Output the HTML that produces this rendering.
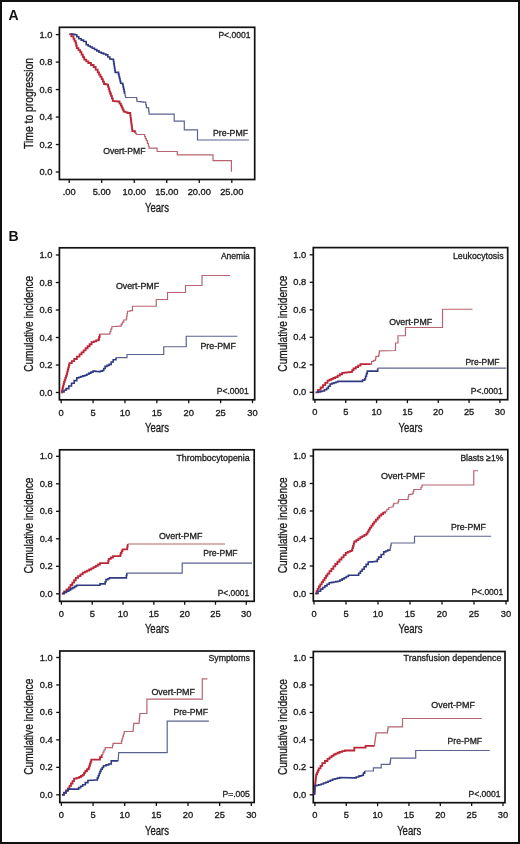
<!DOCTYPE html><html><head><meta charset="utf-8"><style>html,body{margin:0;padding:0;background:#fff;width:520px;height:844px;overflow:hidden}svg{display:block;filter:blur(0.3px)}text{font-family:"Liberation Sans",sans-serif}</style></head><body>
<svg width="520" height="844" viewBox="0 0 520 844">
<rect x="0" y="0" width="520" height="844" fill="#fff"/>
<rect x="1.0" y="1.0" width="518" height="842" fill="none" stroke="#111" stroke-width="2.0"/>
<text x="8.6" y="20" font-size="14" font-weight="bold" fill="#111">A</text>
<text x="8.5" y="241" font-size="14" font-weight="bold" fill="#111">B</text>
<rect x="59.4" y="27.3" width="195.29999999999998" height="152.2" fill="none" stroke="#111" stroke-width="1.7"/>
<line x1="55.8" y1="34.60" x2="59.4" y2="34.60" stroke="#111" stroke-width="1.3"/>
<text x="52.4" y="37.6" font-size="9.3" text-anchor="end" fill="#1a1a1a" stroke="#1a1a1a" stroke-width="0.32" >1.0</text>
<line x1="55.8" y1="62.08" x2="59.4" y2="62.08" stroke="#111" stroke-width="1.3"/>
<text x="52.4" y="65.08" font-size="9.3" text-anchor="end" fill="#1a1a1a" stroke="#1a1a1a" stroke-width="0.32" >0.8</text>
<line x1="55.8" y1="89.56" x2="59.4" y2="89.56" stroke="#111" stroke-width="1.3"/>
<text x="52.4" y="92.56" font-size="9.3" text-anchor="end" fill="#1a1a1a" stroke="#1a1a1a" stroke-width="0.32" >0.6</text>
<line x1="55.8" y1="117.04" x2="59.4" y2="117.04" stroke="#111" stroke-width="1.3"/>
<text x="52.4" y="120.04000000000002" font-size="9.3" text-anchor="end" fill="#1a1a1a" stroke="#1a1a1a" stroke-width="0.32" >0.4</text>
<line x1="55.8" y1="144.52" x2="59.4" y2="144.52" stroke="#111" stroke-width="1.3"/>
<text x="52.4" y="147.52" font-size="9.3" text-anchor="end" fill="#1a1a1a" stroke="#1a1a1a" stroke-width="0.32" >0.2</text>
<line x1="55.8" y1="172.00" x2="59.4" y2="172.00" stroke="#111" stroke-width="1.3"/>
<text x="52.4" y="175.0" font-size="9.3" text-anchor="end" fill="#1a1a1a" stroke="#1a1a1a" stroke-width="0.32" >0.0</text>
<line x1="69.20" y1="179.5" x2="69.20" y2="182.9" stroke="#111" stroke-width="1.3"/>
<text x="69.20" y="195.2" font-size="9.3" text-anchor="middle" fill="#1a1a1a" stroke="#1a1a1a" stroke-width="0.32" >.00</text>
<line x1="101.72" y1="179.5" x2="101.72" y2="182.9" stroke="#111" stroke-width="1.3"/>
<text x="101.72" y="195.2" font-size="9.3" text-anchor="middle" fill="#1a1a1a" stroke="#1a1a1a" stroke-width="0.32" >5.00</text>
<line x1="134.24" y1="179.5" x2="134.24" y2="182.9" stroke="#111" stroke-width="1.3"/>
<text x="134.24" y="195.2" font-size="9.3" text-anchor="middle" fill="#1a1a1a" stroke="#1a1a1a" stroke-width="0.32" >10.00</text>
<line x1="166.76" y1="179.5" x2="166.76" y2="182.9" stroke="#111" stroke-width="1.3"/>
<text x="166.76" y="195.2" font-size="9.3" text-anchor="middle" fill="#1a1a1a" stroke="#1a1a1a" stroke-width="0.32" >15.00</text>
<line x1="199.28" y1="179.5" x2="199.28" y2="182.9" stroke="#111" stroke-width="1.3"/>
<text x="199.28" y="195.2" font-size="9.3" text-anchor="middle" fill="#1a1a1a" stroke="#1a1a1a" stroke-width="0.32" >20.00</text>
<line x1="231.80" y1="179.5" x2="231.80" y2="182.9" stroke="#111" stroke-width="1.3"/>
<text x="231.80" y="195.2" font-size="9.3" text-anchor="middle" fill="#1a1a1a" stroke="#1a1a1a" stroke-width="0.32" >25.00</text>
<text x="157.05" y="211.5" font-size="12.3" text-anchor="middle" fill="#1a1a1a" stroke="#1a1a1a" stroke-width="0.32" textLength="24.0" lengthAdjust="spacingAndGlyphs" >Years</text>
<text transform="translate(32.80,103.40) rotate(-90)" x="0" y="0" font-size="12.4" text-anchor="middle" fill="#1a1a1a" stroke="#1a1a1a" stroke-width="0.32" textLength="91.0" lengthAdjust="spacingAndGlyphs">Time to progression</text>
<path d="M69.20,34.10 L71.35,34.10 L71.35,36.45 L73.50,36.45 L73.50,38.80 L74.50,38.80 L74.50,40.80 L75.50,40.80 L75.50,42.80 L76.15,42.80 L76.15,45.50 L76.80,45.50 L76.80,48.20 L78.50,48.20 L78.50,50.20 L80.20,50.20 L80.20,52.20 L81.53,52.20 L81.53,54.67 L82.87,54.67 L82.87,57.13 L84.20,57.13 L84.20,59.60 L86.25,59.60 L86.25,61.30 L88.30,61.30 L88.30,63.00 L90.95,63.00 L90.95,65.00 L93.60,65.00 L93.60,67.00 L95.65,67.00 L95.65,69.70 L97.70,69.70 L97.70,72.40 L99.03,72.40 L99.03,74.63 L100.37,74.63 L100.37,76.87 L101.70,76.87 L101.70,79.10 L102.85,79.10 L102.85,81.55 L104.00,81.55 L104.00,84.00 L105.70,84.00 L105.70,84.35 L107.40,84.35 L107.40,84.70 L108.08,84.70 L108.08,86.90 L108.75,86.90 L108.75,89.10 L109.42,89.10 L109.42,91.30 L110.10,91.30 L110.10,93.50 L111.00,93.50 L111.00,95.97 L111.90,95.97 L111.90,98.43 L112.80,98.43 L112.80,100.90 L118.20,101.50 L119.55,101.50 L119.55,103.55 L120.90,103.55 L120.90,105.60 L121.80,105.60 L121.80,107.60 L122.70,107.60 L122.70,109.60 L123.60,109.60 L123.60,111.60 L125.60,111.60 L125.60,112.30 L127.60,112.30 L127.60,113.00 L130.30,113.00 L130.30,115.70 L130.59,115.70 L130.59,117.90 L130.87,117.90 L130.87,120.10 L131.16,120.10 L131.16,122.30 L131.44,122.30 L131.44,124.50 L131.73,124.50 L131.73,126.70 L132.01,126.70 L132.01,128.90 L132.30,128.90 L132.30,131.10 L135.00,131.10 L135.00,133.20" fill="none" stroke="#bc2636" stroke-width="1.8" stroke-linejoin="miter"/>
<path d="M135.00,133.20 L136.30,133.20 L136.30,134.50 L143.70,134.50 L144.60,134.50 L144.60,136.53 L145.50,136.53 L145.50,138.57 L146.40,138.57 L146.40,140.60 L147.40,140.60 L147.40,143.30 L148.40,143.30 L148.40,146.00 L149.10,146.00 L149.10,148.10 L157.10,148.10 L157.10,151.50 L177.30,151.50 L177.30,154.90 L213.00,154.90 L213.00,160.60 L231.40,160.60 L231.40,171.70" fill="none" stroke="#b86472" stroke-width="1.2" stroke-linejoin="miter"/>
<path d="M70.80,34.10 L72.80,34.10 L72.80,34.40 L74.80,34.40 L74.80,34.70 L76.80,34.70 L76.80,36.75 L78.80,36.75 L78.80,38.80 L81.20,38.80 L81.20,40.15 L83.60,40.15 L83.60,41.50 L86.20,41.50 L86.20,44.80 L88.23,44.80 L88.23,45.93 L90.27,45.93 L90.27,47.07 L92.30,47.07 L92.30,48.20 L94.53,48.20 L94.53,49.53 L96.77,49.53 L96.77,50.87 L99.00,50.87 L99.00,52.20 L101.27,52.20 L101.27,53.10 L103.53,53.10 L103.53,54.00 L105.80,54.00 L105.80,54.90 L107.80,54.90 L107.80,56.95 L109.80,56.95 L109.80,59.00 L111.50,59.00 L111.50,59.30 L113.20,59.30 L113.20,59.60 L113.53,59.60 L113.53,61.73 L113.87,61.73 L113.87,63.87 L114.20,63.87 L114.20,66.00 L114.53,66.00 L114.53,68.13 L114.87,68.13 L114.87,70.27 L115.20,70.27 L115.20,72.40 L118.50,72.40 L118.50,74.40 L119.03,74.40 L119.03,76.60 L119.55,76.60 L119.55,78.80 L120.07,78.80 L120.07,81.00 L120.60,81.00 L120.60,83.20 L122.60,83.20 L122.60,84.50 L123.10,84.50 L123.10,86.88 L123.60,86.88 L123.60,89.25 L124.10,89.25 L124.10,91.62 L124.60,91.62 L124.60,94.00" fill="none" stroke="#2f3a82" stroke-width="1.6" stroke-linejoin="miter"/>
<path d="M124.60,94.00 L125.10,94.00 L125.10,95.75 L125.60,95.75 L125.60,97.50 L136.30,97.50 L136.65,97.50 L136.65,99.50 L137.00,99.50 L137.00,101.50 L139.03,101.50 L139.03,101.67 L141.05,101.67 L141.05,101.85 L143.07,101.85 L143.07,102.03 L145.10,102.03 L145.10,102.20 L145.75,102.20 L145.75,104.90 L146.40,104.90 L146.40,107.60 L148.40,107.60 L148.40,108.90 L148.75,108.90 L148.75,111.50 L149.10,111.50 L149.10,114.10 L174.20,114.10 L174.20,121.20 L184.30,121.20 L184.30,129.90 L197.50,129.90 L197.50,140.00 L249.00,140.00" fill="none" stroke="#5c6290" stroke-width="1.2" stroke-linejoin="miter"/>
<text x="218.40" y="38.40" font-size="9.0" text-anchor="start" fill="#1e1e1e" stroke="#1e1e1e" stroke-width="0.32" textLength="32.00" lengthAdjust="spacingAndGlyphs" >P&lt;.0001</text>
<text x="213.00" y="135.50" font-size="9.0" text-anchor="start" fill="#1e1e1e" stroke="#1e1e1e" stroke-width="0.32" textLength="35.10" lengthAdjust="spacingAndGlyphs" >Pre-PMF</text>
<text x="103.20" y="153.60" font-size="9.0" text-anchor="start" fill="#1e1e1e" stroke="#1e1e1e" stroke-width="0.32" textLength="42.30" lengthAdjust="spacingAndGlyphs" >Overt-PMF</text>
<rect x="59.4" y="247.8" width="195.29999999999998" height="152.0" fill="none" stroke="#111" stroke-width="1.7"/>
<line x1="55.8" y1="255.00" x2="59.4" y2="255.00" stroke="#111" stroke-width="1.3"/>
<text x="52.4" y="258.0" font-size="9.3" text-anchor="end" fill="#1a1a1a" stroke="#1a1a1a" stroke-width="0.32" >1.0</text>
<line x1="55.8" y1="282.50" x2="59.4" y2="282.50" stroke="#111" stroke-width="1.3"/>
<text x="52.4" y="285.5" font-size="9.3" text-anchor="end" fill="#1a1a1a" stroke="#1a1a1a" stroke-width="0.32" >0.8</text>
<line x1="55.8" y1="310.00" x2="59.4" y2="310.00" stroke="#111" stroke-width="1.3"/>
<text x="52.4" y="313.0" font-size="9.3" text-anchor="end" fill="#1a1a1a" stroke="#1a1a1a" stroke-width="0.32" >0.6</text>
<line x1="55.8" y1="337.50" x2="59.4" y2="337.50" stroke="#111" stroke-width="1.3"/>
<text x="52.4" y="340.5" font-size="9.3" text-anchor="end" fill="#1a1a1a" stroke="#1a1a1a" stroke-width="0.32" >0.4</text>
<line x1="55.8" y1="365.00" x2="59.4" y2="365.00" stroke="#111" stroke-width="1.3"/>
<text x="52.4" y="368.0" font-size="9.3" text-anchor="end" fill="#1a1a1a" stroke="#1a1a1a" stroke-width="0.32" >0.2</text>
<line x1="55.8" y1="392.50" x2="59.4" y2="392.50" stroke="#111" stroke-width="1.3"/>
<text x="52.4" y="395.5" font-size="9.3" text-anchor="end" fill="#1a1a1a" stroke="#1a1a1a" stroke-width="0.32" >0.0</text>
<line x1="61.20" y1="399.8" x2="61.20" y2="403.2" stroke="#111" stroke-width="1.3"/>
<text x="61.20" y="415.5" font-size="9.3" text-anchor="middle" fill="#1a1a1a" stroke="#1a1a1a" stroke-width="0.32" >0</text>
<line x1="93.09" y1="399.8" x2="93.09" y2="403.2" stroke="#111" stroke-width="1.3"/>
<text x="93.09" y="415.5" font-size="9.3" text-anchor="middle" fill="#1a1a1a" stroke="#1a1a1a" stroke-width="0.32" >5</text>
<line x1="124.97" y1="399.8" x2="124.97" y2="403.2" stroke="#111" stroke-width="1.3"/>
<text x="124.97" y="415.5" font-size="9.3" text-anchor="middle" fill="#1a1a1a" stroke="#1a1a1a" stroke-width="0.32" >10</text>
<line x1="156.86" y1="399.8" x2="156.86" y2="403.2" stroke="#111" stroke-width="1.3"/>
<text x="156.86" y="415.5" font-size="9.3" text-anchor="middle" fill="#1a1a1a" stroke="#1a1a1a" stroke-width="0.32" >15</text>
<line x1="188.74" y1="399.8" x2="188.74" y2="403.2" stroke="#111" stroke-width="1.3"/>
<text x="188.74" y="415.5" font-size="9.3" text-anchor="middle" fill="#1a1a1a" stroke="#1a1a1a" stroke-width="0.32" >20</text>
<line x1="220.62" y1="399.8" x2="220.62" y2="403.2" stroke="#111" stroke-width="1.3"/>
<text x="220.62" y="415.5" font-size="9.3" text-anchor="middle" fill="#1a1a1a" stroke="#1a1a1a" stroke-width="0.32" >25</text>
<line x1="252.51" y1="399.8" x2="252.51" y2="403.2" stroke="#111" stroke-width="1.3"/>
<text x="252.51" y="415.5" font-size="9.3" text-anchor="middle" fill="#1a1a1a" stroke="#1a1a1a" stroke-width="0.32" >30</text>
<text x="157.05" y="431.8" font-size="12.3" text-anchor="middle" fill="#1a1a1a" stroke="#1a1a1a" stroke-width="0.32" textLength="24.0" lengthAdjust="spacingAndGlyphs" >Years</text>
<text transform="translate(32.80,323.80) rotate(-90)" x="0" y="0" font-size="12.4" text-anchor="middle" fill="#1a1a1a" stroke="#1a1a1a" stroke-width="0.32" textLength="96.0" lengthAdjust="spacingAndGlyphs">Cumulative incidence</text>
<path d="M61.40,392.70 L61.92,392.70 L61.92,390.54 L62.44,390.54 L62.44,388.38 L62.96,388.38 L62.96,386.22 L63.48,386.22 L63.48,384.06 L64.00,384.06 L64.00,381.90 L64.67,381.90 L64.67,379.88 L65.35,379.88 L65.35,377.85 L66.03,377.85 L66.03,375.82 L66.70,375.82 L66.70,373.80 L67.24,373.80 L67.24,371.66 L67.78,371.66 L67.78,369.52 L68.32,369.52 L68.32,367.38 L68.86,367.38 L68.86,365.24 L69.40,365.24 L69.40,363.10 L71.80,363.10 L71.80,361.05 L74.20,361.05 L74.20,359.00 L76.85,359.00 L76.85,356.65 L79.50,356.65 L79.50,354.30 L81.55,354.30 L81.55,352.30 L83.60,352.30 L83.60,350.30 L85.60,350.30 L85.60,348.27 L87.60,348.27 L87.60,346.25 L89.60,346.25 L89.60,344.23 L91.60,344.23 L91.60,342.20 L93.87,342.20 L93.87,341.30 L96.13,341.30 L96.13,340.40 L98.40,340.40 L98.40,339.50 L99.05,339.50 L99.05,336.80 L99.70,336.80 L99.70,334.10" fill="none" stroke="#bc2636" stroke-width="1.8" stroke-linejoin="miter"/>
<path d="M99.70,334.10 L109.10,334.10 L110.00,334.10 L110.00,331.63 L110.90,331.63 L110.90,329.17 L111.80,329.17 L111.80,326.70 L119.90,326.10 L121.18,326.10 L121.18,324.07 L122.47,324.07 L122.47,322.03 L123.75,322.03 L123.75,320.00 L126.25,320.00 L126.25,318.75 L126.67,318.75 L126.67,316.25 L127.08,316.25 L127.08,313.75 L127.50,313.75 L127.50,311.25 L130.00,311.25 L130.00,310.62 L132.50,310.62 L132.50,310.00 L132.50,306.25 L156.25,306.25 L156.25,299.50 L167.50,299.50 L167.50,292.50 L185.50,292.50 L185.50,285.50 L202.00,285.50 L202.00,275.50 L230.00,275.50" fill="none" stroke="#b86472" stroke-width="1.2" stroke-linejoin="miter"/>
<path d="M62.00,392.00 L64.05,392.00 L64.05,390.30 L66.10,390.30 L66.10,388.60 L68.80,388.60 L68.80,385.95 L71.50,385.95 L71.50,383.30 L74.15,383.30 L74.15,380.60 L76.80,380.60 L76.80,377.90 L78.83,377.90 L78.83,377.22 L80.85,377.22 L80.85,376.55 L82.88,376.55 L82.88,375.88 L84.90,375.88 L84.90,375.20 L86.93,375.20 L86.93,374.18 L88.95,374.18 L88.95,373.15 L90.97,373.15 L90.97,372.12 L93.00,372.12 L93.00,371.10 L95.70,371.10 L95.70,371.45 L98.40,371.45 L98.40,371.80 L100.40,371.80 L100.40,371.15 L102.40,371.15 L102.40,370.50 L103.75,370.50 L103.75,368.45 L105.10,368.45 L105.10,366.40 L107.10,366.40 L107.10,365.40 L109.10,365.40 L109.10,364.40 L111.15,364.40 L111.15,362.05 L113.20,362.05 L113.20,359.70 L115.90,359.70 L115.90,357.70" fill="none" stroke="#2f3a82" stroke-width="1.6" stroke-linejoin="miter"/>
<path d="M115.90,357.70 L127.00,357.70 L127.00,354.50 L163.75,354.50 L163.75,346.75 L186.25,346.75 L186.25,336.25 L237.50,336.25" fill="none" stroke="#5c6290" stroke-width="1.2" stroke-linejoin="miter"/>
<text x="220.90" y="258.60" font-size="9.0" text-anchor="start" fill="#1e1e1e" stroke="#1e1e1e" stroke-width="0.32" textLength="28.90" lengthAdjust="spacingAndGlyphs" >Anemia</text>
<text x="115.90" y="289.00" font-size="9.0" text-anchor="start" fill="#1e1e1e" stroke="#1e1e1e" stroke-width="0.32" textLength="43.20" lengthAdjust="spacingAndGlyphs" >Overt-PMF</text>
<text x="200.40" y="349.00" font-size="9.0" text-anchor="start" fill="#1e1e1e" stroke="#1e1e1e" stroke-width="0.32" textLength="35.45" lengthAdjust="spacingAndGlyphs" >Pre-PMF</text>
<text x="216.80" y="393.90" font-size="9.0" text-anchor="start" fill="#1e1e1e" stroke="#1e1e1e" stroke-width="0.32" textLength="32.00" lengthAdjust="spacingAndGlyphs" >P&lt;.0001</text>
<rect x="313.3" y="247.6" width="194.39999999999998" height="152.1" fill="none" stroke="#111" stroke-width="1.7"/>
<line x1="309.7" y1="254.80" x2="313.3" y2="254.80" stroke="#111" stroke-width="1.3"/>
<text x="306.3" y="257.8" font-size="9.3" text-anchor="end" fill="#1a1a1a" stroke="#1a1a1a" stroke-width="0.32" >1.0</text>
<line x1="309.7" y1="282.30" x2="313.3" y2="282.30" stroke="#111" stroke-width="1.3"/>
<text x="306.3" y="285.3" font-size="9.3" text-anchor="end" fill="#1a1a1a" stroke="#1a1a1a" stroke-width="0.32" >0.8</text>
<line x1="309.7" y1="309.80" x2="313.3" y2="309.80" stroke="#111" stroke-width="1.3"/>
<text x="306.3" y="312.8" font-size="9.3" text-anchor="end" fill="#1a1a1a" stroke="#1a1a1a" stroke-width="0.32" >0.6</text>
<line x1="309.7" y1="337.30" x2="313.3" y2="337.30" stroke="#111" stroke-width="1.3"/>
<text x="306.3" y="340.3" font-size="9.3" text-anchor="end" fill="#1a1a1a" stroke="#1a1a1a" stroke-width="0.32" >0.4</text>
<line x1="309.7" y1="364.80" x2="313.3" y2="364.80" stroke="#111" stroke-width="1.3"/>
<text x="306.3" y="367.8" font-size="9.3" text-anchor="end" fill="#1a1a1a" stroke="#1a1a1a" stroke-width="0.32" >0.2</text>
<line x1="309.7" y1="392.30" x2="313.3" y2="392.30" stroke="#111" stroke-width="1.3"/>
<text x="306.3" y="395.3" font-size="9.3" text-anchor="end" fill="#1a1a1a" stroke="#1a1a1a" stroke-width="0.32" >0.0</text>
<line x1="314.90" y1="399.7" x2="314.90" y2="403.09999999999997" stroke="#111" stroke-width="1.3"/>
<text x="314.90" y="415.4" font-size="9.3" text-anchor="middle" fill="#1a1a1a" stroke="#1a1a1a" stroke-width="0.32" >0</text>
<line x1="345.73" y1="399.7" x2="345.73" y2="403.09999999999997" stroke="#111" stroke-width="1.3"/>
<text x="345.73" y="415.4" font-size="9.3" text-anchor="middle" fill="#1a1a1a" stroke="#1a1a1a" stroke-width="0.32" >5</text>
<line x1="376.57" y1="399.7" x2="376.57" y2="403.09999999999997" stroke="#111" stroke-width="1.3"/>
<text x="376.57" y="415.4" font-size="9.3" text-anchor="middle" fill="#1a1a1a" stroke="#1a1a1a" stroke-width="0.32" >10</text>
<line x1="407.40" y1="399.7" x2="407.40" y2="403.09999999999997" stroke="#111" stroke-width="1.3"/>
<text x="407.40" y="415.4" font-size="9.3" text-anchor="middle" fill="#1a1a1a" stroke="#1a1a1a" stroke-width="0.32" >15</text>
<line x1="438.24" y1="399.7" x2="438.24" y2="403.09999999999997" stroke="#111" stroke-width="1.3"/>
<text x="438.24" y="415.4" font-size="9.3" text-anchor="middle" fill="#1a1a1a" stroke="#1a1a1a" stroke-width="0.32" >20</text>
<line x1="469.07" y1="399.7" x2="469.07" y2="403.09999999999997" stroke="#111" stroke-width="1.3"/>
<text x="469.07" y="415.4" font-size="9.3" text-anchor="middle" fill="#1a1a1a" stroke="#1a1a1a" stroke-width="0.32" >25</text>
<line x1="499.91" y1="399.7" x2="499.91" y2="403.09999999999997" stroke="#111" stroke-width="1.3"/>
<text x="499.91" y="415.4" font-size="9.3" text-anchor="middle" fill="#1a1a1a" stroke="#1a1a1a" stroke-width="0.32" >30</text>
<text x="410.50" y="431.7" font-size="12.3" text-anchor="middle" fill="#1a1a1a" stroke="#1a1a1a" stroke-width="0.32" textLength="24.0" lengthAdjust="spacingAndGlyphs" >Years</text>
<text transform="translate(286.70,323.65) rotate(-90)" x="0" y="0" font-size="12.4" text-anchor="middle" fill="#1a1a1a" stroke="#1a1a1a" stroke-width="0.32" textLength="96.0" lengthAdjust="spacingAndGlyphs">Cumulative incidence</text>
<path d="M315.40,392.30 L318.00,392.30 L318.00,389.90 L320.60,389.90 L320.60,387.50 L322.90,387.50 L322.90,385.20 L325.20,385.20 L325.20,382.90 L327.50,382.90 L327.50,380.60 L329.45,380.60 L329.45,379.73 L331.40,379.73 L331.40,378.85 L333.35,378.85 L333.35,377.98 L335.30,377.98 L335.30,377.10 L337.60,377.10 L337.60,375.67 L339.90,375.67 L339.90,374.23 L342.20,374.23 L342.20,372.80 L344.38,372.80 L344.38,372.57 L346.55,372.57 L346.55,372.35 L348.72,372.35 L348.72,372.12 L350.90,372.12 L350.90,371.90 L352.20,371.90 L352.20,370.20 L353.50,370.20 L353.50,368.50 L355.80,368.50 L355.80,367.03 L358.10,367.03 L358.10,365.57 L360.40,365.57 L360.40,364.10 L370.80,364.10" fill="none" stroke="#bc2636" stroke-width="1.8" stroke-linejoin="miter"/>
<path d="M370.80,364.10 L371.60,364.10 L371.60,361.50 L373.35,361.50 L373.35,360.65 L375.10,360.65 L375.10,359.80 L375.55,359.80 L375.55,358.05 L376.00,358.05 L376.00,356.30 L378.60,356.30 L378.60,355.50 L379.00,355.50 L379.00,353.15 L379.40,353.15 L379.40,350.80 L395.50,350.50 L395.50,343.00 L398.00,343.00 L398.00,335.75 L405.50,335.75 L405.50,327.50 L442.50,327.50 L442.50,309.25 L472.50,309.25" fill="none" stroke="#b86472" stroke-width="1.2" stroke-linejoin="miter"/>
<path d="M316.20,392.30 L318.23,392.30 L318.23,391.87 L320.27,391.87 L320.27,391.43 L322.30,391.43 L322.30,391.00 L324.45,391.00 L324.45,389.70 L326.60,389.70 L326.60,388.40 L328.35,388.40 L328.35,386.20 L330.10,386.20 L330.10,384.00 L332.05,384.00 L332.05,383.35 L334.00,383.35 L334.00,382.70 L335.95,382.70 L335.95,382.05 L337.90,382.05 L337.90,381.40 L360.40,381.40 L362.55,381.40 L362.55,380.10 L364.70,380.10 L364.70,378.80 L365.57,378.80 L365.57,376.23 L366.43,376.23 L366.43,373.67 L367.30,373.67 L367.30,371.10 L376.00,371.10 L377.70,371.10 L377.70,368.20" fill="none" stroke="#2f3a82" stroke-width="1.6" stroke-linejoin="miter"/>
<path d="M377.70,368.20 L506.25,368.20" fill="none" stroke="#5c6290" stroke-width="1.2" stroke-linejoin="miter"/>
<text x="452.90" y="259.00" font-size="9.0" text-anchor="start" fill="#1e1e1e" stroke="#1e1e1e" stroke-width="0.32" textLength="50.70" lengthAdjust="spacingAndGlyphs" >Leukocytosis</text>
<text x="389.15" y="324.50" font-size="9.0" text-anchor="start" fill="#1e1e1e" stroke="#1e1e1e" stroke-width="0.32" textLength="42.95" lengthAdjust="spacingAndGlyphs" >Overt-PMF</text>
<text x="465.40" y="365.00" font-size="9.0" text-anchor="start" fill="#1e1e1e" stroke="#1e1e1e" stroke-width="0.32" textLength="34.20" lengthAdjust="spacingAndGlyphs" >Pre-PMF</text>
<text x="470.80" y="394.20" font-size="9.0" text-anchor="start" fill="#1e1e1e" stroke="#1e1e1e" stroke-width="0.32" textLength="32.00" lengthAdjust="spacingAndGlyphs" >P&lt;.0001</text>
<rect x="59.6" y="449.8" width="194.6" height="151.49999999999994" fill="none" stroke="#111" stroke-width="1.7"/>
<line x1="56.0" y1="456.30" x2="59.6" y2="456.30" stroke="#111" stroke-width="1.3"/>
<text x="52.6" y="459.3" font-size="9.3" text-anchor="end" fill="#1a1a1a" stroke="#1a1a1a" stroke-width="0.32" >1.0</text>
<line x1="56.0" y1="483.80" x2="59.6" y2="483.80" stroke="#111" stroke-width="1.3"/>
<text x="52.6" y="486.8" font-size="9.3" text-anchor="end" fill="#1a1a1a" stroke="#1a1a1a" stroke-width="0.32" >0.8</text>
<line x1="56.0" y1="511.30" x2="59.6" y2="511.30" stroke="#111" stroke-width="1.3"/>
<text x="52.6" y="514.3" font-size="9.3" text-anchor="end" fill="#1a1a1a" stroke="#1a1a1a" stroke-width="0.32" >0.6</text>
<line x1="56.0" y1="538.80" x2="59.6" y2="538.80" stroke="#111" stroke-width="1.3"/>
<text x="52.6" y="541.8" font-size="9.3" text-anchor="end" fill="#1a1a1a" stroke="#1a1a1a" stroke-width="0.32" >0.4</text>
<line x1="56.0" y1="566.30" x2="59.6" y2="566.30" stroke="#111" stroke-width="1.3"/>
<text x="52.6" y="569.3" font-size="9.3" text-anchor="end" fill="#1a1a1a" stroke="#1a1a1a" stroke-width="0.32" >0.2</text>
<line x1="56.0" y1="593.80" x2="59.6" y2="593.80" stroke="#111" stroke-width="1.3"/>
<text x="52.6" y="596.8" font-size="9.3" text-anchor="end" fill="#1a1a1a" stroke="#1a1a1a" stroke-width="0.32" >0.0</text>
<line x1="61.40" y1="601.3" x2="61.40" y2="604.6999999999999" stroke="#111" stroke-width="1.3"/>
<text x="61.40" y="617.0" font-size="9.3" text-anchor="middle" fill="#1a1a1a" stroke="#1a1a1a" stroke-width="0.32" >0</text>
<line x1="92.22" y1="601.3" x2="92.22" y2="604.6999999999999" stroke="#111" stroke-width="1.3"/>
<text x="92.22" y="617.0" font-size="9.3" text-anchor="middle" fill="#1a1a1a" stroke="#1a1a1a" stroke-width="0.32" >5</text>
<line x1="123.03" y1="601.3" x2="123.03" y2="604.6999999999999" stroke="#111" stroke-width="1.3"/>
<text x="123.03" y="617.0" font-size="9.3" text-anchor="middle" fill="#1a1a1a" stroke="#1a1a1a" stroke-width="0.32" >10</text>
<line x1="153.84" y1="601.3" x2="153.84" y2="604.6999999999999" stroke="#111" stroke-width="1.3"/>
<text x="153.84" y="617.0" font-size="9.3" text-anchor="middle" fill="#1a1a1a" stroke="#1a1a1a" stroke-width="0.32" >15</text>
<line x1="184.66" y1="601.3" x2="184.66" y2="604.6999999999999" stroke="#111" stroke-width="1.3"/>
<text x="184.66" y="617.0" font-size="9.3" text-anchor="middle" fill="#1a1a1a" stroke="#1a1a1a" stroke-width="0.32" >20</text>
<line x1="215.48" y1="601.3" x2="215.48" y2="604.6999999999999" stroke="#111" stroke-width="1.3"/>
<text x="215.48" y="617.0" font-size="9.3" text-anchor="middle" fill="#1a1a1a" stroke="#1a1a1a" stroke-width="0.32" >25</text>
<line x1="246.29" y1="601.3" x2="246.29" y2="604.6999999999999" stroke="#111" stroke-width="1.3"/>
<text x="246.29" y="617.0" font-size="9.3" text-anchor="middle" fill="#1a1a1a" stroke="#1a1a1a" stroke-width="0.32" >30</text>
<text x="156.90" y="633.3" font-size="12.3" text-anchor="middle" fill="#1a1a1a" stroke="#1a1a1a" stroke-width="0.32" textLength="24.0" lengthAdjust="spacingAndGlyphs" >Years</text>
<text transform="translate(33.00,525.55) rotate(-90)" x="0" y="0" font-size="12.4" text-anchor="middle" fill="#1a1a1a" stroke="#1a1a1a" stroke-width="0.32" textLength="96.0" lengthAdjust="spacingAndGlyphs">Cumulative incidence</text>
<path d="M61.90,593.50 L64.20,593.50 L64.20,591.47 L66.50,591.47 L66.50,589.43 L68.80,589.43 L68.80,587.40 L70.55,587.40 L70.55,585.02 L72.30,585.02 L72.30,582.65 L74.05,582.65 L74.05,580.27 L75.80,580.27 L75.80,577.90 L78.10,577.90 L78.10,576.17 L80.40,576.17 L80.40,574.43 L82.70,574.43 L82.70,572.70 L84.85,572.70 L84.85,571.62 L87.00,571.62 L87.00,570.55 L89.15,570.55 L89.15,569.48 L91.30,569.48 L91.30,568.40 L93.47,568.40 L93.47,567.10 L95.65,567.10 L95.65,565.80 L97.83,565.80 L97.83,564.50 L100.00,564.50 L100.00,563.20 L107.80,563.20 L108.25,563.20 L108.25,561.00 L108.70,561.00 L108.70,558.80 L110.85,558.80 L110.85,557.50 L113.00,557.50 L113.00,556.20 L119.90,556.20 L120.35,556.20 L120.35,554.50 L120.80,554.50 L120.80,552.80 L121.65,552.80 L121.65,551.05 L122.50,551.05 L122.50,549.30 L126.80,549.30 L127.25,549.30 L127.25,546.65 L127.70,546.65 L127.70,544.00" fill="none" stroke="#bc2636" stroke-width="1.8" stroke-linejoin="miter"/>
<path d="M127.70,544.00 L224.90,544.00" fill="none" stroke="#b86472" stroke-width="1.2" stroke-linejoin="miter"/>
<path d="M61.90,593.50 L64.20,593.50 L64.20,592.33 L66.50,592.33 L66.50,591.17 L68.80,591.17 L68.80,590.00 L70.75,590.00 L70.75,588.80 L72.70,588.80 L72.70,587.60 L74.65,587.60 L74.65,586.40 L76.60,586.40 L76.60,585.20 L98.30,585.20 L100.00,585.20 L100.00,583.90 L104.30,583.90 L105.15,583.90 L105.15,581.75 L106.00,581.75 L106.00,579.60 L107.75,579.60 L107.75,578.75 L109.50,578.75 L109.50,577.90 L126.00,577.90 L126.40,577.90 L126.40,575.50 L126.80,575.50 L126.80,573.10" fill="none" stroke="#2f3a82" stroke-width="1.6" stroke-linejoin="miter"/>
<path d="M126.80,573.10 L182.20,573.10 L182.20,563.20 L252.00,563.20" fill="none" stroke="#5c6290" stroke-width="1.2" stroke-linejoin="miter"/>
<text x="176.40" y="460.50" font-size="9.0" text-anchor="start" fill="#1e1e1e" stroke="#1e1e1e" stroke-width="0.32" textLength="73.20" lengthAdjust="spacingAndGlyphs" >Thrombocytopenia</text>
<text x="158.90" y="539.10" font-size="9.0" text-anchor="start" fill="#1e1e1e" stroke="#1e1e1e" stroke-width="0.32" textLength="43.50" lengthAdjust="spacingAndGlyphs" >Overt-PMF</text>
<text x="203.20" y="555.70" font-size="9.0" text-anchor="start" fill="#1e1e1e" stroke="#1e1e1e" stroke-width="0.32" textLength="34.40" lengthAdjust="spacingAndGlyphs" >Pre-PMF</text>
<text x="217.70" y="595.70" font-size="9.0" text-anchor="start" fill="#1e1e1e" stroke="#1e1e1e" stroke-width="0.32" textLength="31.50" lengthAdjust="spacingAndGlyphs" >P&lt;.0001</text>
<rect x="313.3" y="449.6" width="194.5" height="151.39999999999998" fill="none" stroke="#111" stroke-width="1.7"/>
<line x1="309.7" y1="456.00" x2="313.3" y2="456.00" stroke="#111" stroke-width="1.3"/>
<text x="306.3" y="459.0" font-size="9.3" text-anchor="end" fill="#1a1a1a" stroke="#1a1a1a" stroke-width="0.32" >1.0</text>
<line x1="309.7" y1="483.50" x2="313.3" y2="483.50" stroke="#111" stroke-width="1.3"/>
<text x="306.3" y="486.5" font-size="9.3" text-anchor="end" fill="#1a1a1a" stroke="#1a1a1a" stroke-width="0.32" >0.8</text>
<line x1="309.7" y1="511.00" x2="313.3" y2="511.00" stroke="#111" stroke-width="1.3"/>
<text x="306.3" y="514.0" font-size="9.3" text-anchor="end" fill="#1a1a1a" stroke="#1a1a1a" stroke-width="0.32" >0.6</text>
<line x1="309.7" y1="538.50" x2="313.3" y2="538.50" stroke="#111" stroke-width="1.3"/>
<text x="306.3" y="541.5" font-size="9.3" text-anchor="end" fill="#1a1a1a" stroke="#1a1a1a" stroke-width="0.32" >0.4</text>
<line x1="309.7" y1="566.00" x2="313.3" y2="566.00" stroke="#111" stroke-width="1.3"/>
<text x="306.3" y="569.0" font-size="9.3" text-anchor="end" fill="#1a1a1a" stroke="#1a1a1a" stroke-width="0.32" >0.2</text>
<line x1="309.7" y1="593.50" x2="313.3" y2="593.50" stroke="#111" stroke-width="1.3"/>
<text x="306.3" y="596.5" font-size="9.3" text-anchor="end" fill="#1a1a1a" stroke="#1a1a1a" stroke-width="0.32" >0.0</text>
<line x1="314.00" y1="601.0" x2="314.00" y2="604.4" stroke="#111" stroke-width="1.3"/>
<text x="314.00" y="616.7" font-size="9.3" text-anchor="middle" fill="#1a1a1a" stroke="#1a1a1a" stroke-width="0.32" >0</text>
<line x1="346.00" y1="601.0" x2="346.00" y2="604.4" stroke="#111" stroke-width="1.3"/>
<text x="346.00" y="616.7" font-size="9.3" text-anchor="middle" fill="#1a1a1a" stroke="#1a1a1a" stroke-width="0.32" >5</text>
<line x1="378.00" y1="601.0" x2="378.00" y2="604.4" stroke="#111" stroke-width="1.3"/>
<text x="378.00" y="616.7" font-size="9.3" text-anchor="middle" fill="#1a1a1a" stroke="#1a1a1a" stroke-width="0.32" >10</text>
<line x1="410.00" y1="601.0" x2="410.00" y2="604.4" stroke="#111" stroke-width="1.3"/>
<text x="410.00" y="616.7" font-size="9.3" text-anchor="middle" fill="#1a1a1a" stroke="#1a1a1a" stroke-width="0.32" >15</text>
<line x1="442.00" y1="601.0" x2="442.00" y2="604.4" stroke="#111" stroke-width="1.3"/>
<text x="442.00" y="616.7" font-size="9.3" text-anchor="middle" fill="#1a1a1a" stroke="#1a1a1a" stroke-width="0.32" >20</text>
<line x1="474.00" y1="601.0" x2="474.00" y2="604.4" stroke="#111" stroke-width="1.3"/>
<text x="474.00" y="616.7" font-size="9.3" text-anchor="middle" fill="#1a1a1a" stroke="#1a1a1a" stroke-width="0.32" >25</text>
<line x1="506.00" y1="601.0" x2="506.00" y2="604.4" stroke="#111" stroke-width="1.3"/>
<text x="506.00" y="616.7" font-size="9.3" text-anchor="middle" fill="#1a1a1a" stroke="#1a1a1a" stroke-width="0.32" >30</text>
<text x="410.55" y="633.0" font-size="12.3" text-anchor="middle" fill="#1a1a1a" stroke="#1a1a1a" stroke-width="0.32" textLength="24.0" lengthAdjust="spacingAndGlyphs" >Years</text>
<text transform="translate(286.70,525.30) rotate(-90)" x="0" y="0" font-size="12.4" text-anchor="middle" fill="#1a1a1a" stroke="#1a1a1a" stroke-width="0.32" textLength="96.0" lengthAdjust="spacingAndGlyphs">Cumulative incidence</text>
<path d="M315.40,593.50 L316.53,593.50 L316.53,591.17 L317.67,591.17 L317.67,588.83 L318.80,588.83 L318.80,586.50 L320.25,586.50 L320.25,584.35 L321.70,584.35 L321.70,582.20 L323.15,582.20 L323.15,580.05 L324.60,580.05 L324.60,577.90 L326.05,577.90 L326.05,575.75 L327.50,575.75 L327.50,573.60 L329.45,573.60 L329.45,571.20 L331.40,571.20 L331.40,568.80 L333.35,568.80 L333.35,566.40 L335.30,566.40 L335.30,564.00 L337.38,564.00 L337.38,561.76 L339.46,561.76 L339.46,559.52 L341.54,559.52 L341.54,557.28 L343.62,557.28 L343.62,555.04 L345.70,555.04 L345.70,552.80 L347.70,552.80 L347.70,551.93 L349.70,551.93 L349.70,551.07 L351.70,551.07 L351.70,550.20 L352.35,550.20 L352.35,548.03 L353.00,548.03 L353.00,545.85 L353.65,545.85 L353.65,543.67 L354.30,543.67 L354.30,541.50 L356.33,541.50 L356.33,540.07 L358.37,540.07 L358.37,538.63 L360.40,538.63 L360.40,537.20 L362.40,537.20 L362.40,536.03 L364.40,536.03 L364.40,534.87 L366.40,534.87 L366.40,533.70 L367.57,533.70 L367.57,531.70 L368.73,531.70 L368.73,529.70 L369.90,529.70 L369.90,527.70 L371.33,527.70 L371.33,525.67 L372.77,525.67 L372.77,523.63 L374.20,523.63 L374.20,521.60 L375.93,521.60 L375.93,519.60 L377.67,519.60 L377.67,517.60 L379.40,517.60 L379.40,515.60 L381.27,515.60 L381.27,514.15 L383.13,514.15 L383.13,512.70 L385.00,512.70 L385.00,511.25" fill="none" stroke="#bc2636" stroke-width="1.8" stroke-linejoin="miter"/>
<path d="M385.00,511.25 L386.88,511.25 L386.88,509.38 L388.75,509.38 L388.75,507.50 L392.50,507.00 L393.12,507.00 L393.12,505.12 L393.75,505.12 L393.75,503.25 L397.50,503.25 L398.12,503.25 L398.12,501.38 L398.75,501.38 L398.75,499.50 L407.50,499.50 L408.12,499.50 L408.12,497.00 L408.75,497.00 L408.75,494.50 L410.62,494.50 L410.62,494.12 L412.50,494.12 L412.50,493.75 L413.12,493.75 L413.12,491.62 L413.75,491.62 L413.75,489.50 L420.00,489.50 L421.00,489.50 L421.00,487.25 L422.00,487.25 L422.00,485.00 L473.75,485.00 L473.75,470.75 L478.00,470.75" fill="none" stroke="#b86472" stroke-width="1.2" stroke-linejoin="miter"/>
<path d="M315.40,593.50 L318.00,593.50 L318.00,591.30 L320.60,591.30 L320.60,589.10 L322.75,589.10 L322.75,587.50 L324.90,587.50 L324.90,585.90 L327.05,585.90 L327.05,584.30 L329.20,584.30 L329.20,582.70 L331.38,582.70 L331.38,582.35 L333.55,582.35 L333.55,582.00 L335.72,582.00 L335.72,581.65 L337.90,581.65 L337.90,581.30 L339.98,581.30 L339.98,580.10 L342.06,580.10 L342.06,578.90 L344.14,578.90 L344.14,577.70 L346.22,577.70 L346.22,576.50 L348.30,576.50 L348.30,575.30 L356.90,575.30 L358.63,575.30 L358.63,573.27 L360.37,573.27 L360.37,571.23 L362.10,571.23 L362.10,569.20 L364.13,569.20 L364.13,566.80 L366.17,566.80 L366.17,564.40 L368.20,564.40 L368.20,562.00 L370.15,562.00 L370.15,561.85 L372.10,561.85 L372.10,561.70 L374.05,561.70 L374.05,561.55 L376.00,561.55 L376.00,561.40 L377.30,561.40 L377.30,559.25 L378.60,559.25 L378.60,557.10 L381.15,557.10 L381.15,554.50 L383.70,554.50 L383.70,551.90 L385.73,551.90 L385.73,551.03 L387.77,551.03 L387.77,550.17 L389.80,550.17 L389.80,549.30" fill="none" stroke="#2f3a82" stroke-width="1.6" stroke-linejoin="miter"/>
<path d="M389.80,549.30 L390.28,549.30 L390.28,547.20 L390.77,547.20 L390.77,545.10 L391.25,545.10 L391.25,543.00 L414.50,543.00 L414.50,536.25 L491.25,536.25" fill="none" stroke="#5c6290" stroke-width="1.2" stroke-linejoin="miter"/>
<text x="460.40" y="461.00" font-size="9.0" text-anchor="start" fill="#1e1e1e" stroke="#1e1e1e" stroke-width="0.32" textLength="42.95" lengthAdjust="spacingAndGlyphs" >Blasts ≥1%</text>
<text x="380.90" y="479.00" font-size="9.0" text-anchor="start" fill="#1e1e1e" stroke="#1e1e1e" stroke-width="0.32" textLength="44.20" lengthAdjust="spacingAndGlyphs" >Overt-PMF</text>
<text x="450.90" y="529.50" font-size="9.0" text-anchor="start" fill="#1e1e1e" stroke="#1e1e1e" stroke-width="0.32" textLength="34.95" lengthAdjust="spacingAndGlyphs" >Pre-PMF</text>
<text x="471.40" y="595.40" font-size="9.0" text-anchor="start" fill="#1e1e1e" stroke="#1e1e1e" stroke-width="0.32" textLength="31.90" lengthAdjust="spacingAndGlyphs" >P&lt;.0001</text>
<rect x="59.8" y="651.0" width="194.39999999999998" height="151.5" fill="none" stroke="#111" stroke-width="1.7"/>
<line x1="56.199999999999996" y1="657.50" x2="59.8" y2="657.50" stroke="#111" stroke-width="1.3"/>
<text x="52.8" y="660.5" font-size="9.3" text-anchor="end" fill="#1a1a1a" stroke="#1a1a1a" stroke-width="0.32" >1.0</text>
<line x1="56.199999999999996" y1="684.96" x2="59.8" y2="684.96" stroke="#111" stroke-width="1.3"/>
<text x="52.8" y="687.96" font-size="9.3" text-anchor="end" fill="#1a1a1a" stroke="#1a1a1a" stroke-width="0.32" >0.8</text>
<line x1="56.199999999999996" y1="712.42" x2="59.8" y2="712.42" stroke="#111" stroke-width="1.3"/>
<text x="52.8" y="715.42" font-size="9.3" text-anchor="end" fill="#1a1a1a" stroke="#1a1a1a" stroke-width="0.32" >0.6</text>
<line x1="56.199999999999996" y1="739.88" x2="59.8" y2="739.88" stroke="#111" stroke-width="1.3"/>
<text x="52.8" y="742.88" font-size="9.3" text-anchor="end" fill="#1a1a1a" stroke="#1a1a1a" stroke-width="0.32" >0.4</text>
<line x1="56.199999999999996" y1="767.34" x2="59.8" y2="767.34" stroke="#111" stroke-width="1.3"/>
<text x="52.8" y="770.3399999999999" font-size="9.3" text-anchor="end" fill="#1a1a1a" stroke="#1a1a1a" stroke-width="0.32" >0.2</text>
<line x1="56.199999999999996" y1="794.80" x2="59.8" y2="794.80" stroke="#111" stroke-width="1.3"/>
<text x="52.8" y="797.8" font-size="9.3" text-anchor="end" fill="#1a1a1a" stroke="#1a1a1a" stroke-width="0.32" >0.0</text>
<line x1="61.40" y1="802.5" x2="61.40" y2="805.9" stroke="#111" stroke-width="1.3"/>
<text x="61.40" y="818.2" font-size="9.3" text-anchor="middle" fill="#1a1a1a" stroke="#1a1a1a" stroke-width="0.32" >0</text>
<line x1="93.05" y1="802.5" x2="93.05" y2="805.9" stroke="#111" stroke-width="1.3"/>
<text x="93.05" y="818.2" font-size="9.3" text-anchor="middle" fill="#1a1a1a" stroke="#1a1a1a" stroke-width="0.32" >5</text>
<line x1="124.70" y1="802.5" x2="124.70" y2="805.9" stroke="#111" stroke-width="1.3"/>
<text x="124.70" y="818.2" font-size="9.3" text-anchor="middle" fill="#1a1a1a" stroke="#1a1a1a" stroke-width="0.32" >10</text>
<line x1="156.35" y1="802.5" x2="156.35" y2="805.9" stroke="#111" stroke-width="1.3"/>
<text x="156.35" y="818.2" font-size="9.3" text-anchor="middle" fill="#1a1a1a" stroke="#1a1a1a" stroke-width="0.32" >15</text>
<line x1="188.00" y1="802.5" x2="188.00" y2="805.9" stroke="#111" stroke-width="1.3"/>
<text x="188.00" y="818.2" font-size="9.3" text-anchor="middle" fill="#1a1a1a" stroke="#1a1a1a" stroke-width="0.32" >20</text>
<line x1="219.65" y1="802.5" x2="219.65" y2="805.9" stroke="#111" stroke-width="1.3"/>
<text x="219.65" y="818.2" font-size="9.3" text-anchor="middle" fill="#1a1a1a" stroke="#1a1a1a" stroke-width="0.32" >25</text>
<line x1="251.30" y1="802.5" x2="251.30" y2="805.9" stroke="#111" stroke-width="1.3"/>
<text x="251.30" y="818.2" font-size="9.3" text-anchor="middle" fill="#1a1a1a" stroke="#1a1a1a" stroke-width="0.32" >30</text>
<text x="157.00" y="834.5" font-size="12.3" text-anchor="middle" fill="#1a1a1a" stroke="#1a1a1a" stroke-width="0.32" textLength="24.0" lengthAdjust="spacingAndGlyphs" >Years</text>
<text transform="translate(33.20,726.75) rotate(-90)" x="0" y="0" font-size="12.4" text-anchor="middle" fill="#1a1a1a" stroke="#1a1a1a" stroke-width="0.32" textLength="96.0" lengthAdjust="spacingAndGlyphs">Cumulative incidence</text>
<path d="M61.90,794.80 L63.93,794.80 L63.93,792.63 L65.97,792.63 L65.97,790.47 L68.00,790.47 L68.00,788.30 L69.50,788.30 L69.50,785.90 L71.00,785.90 L71.00,783.50 L72.50,783.50 L72.50,781.10 L74.00,781.10 L74.00,778.70 L76.60,778.70 L76.60,777.85 L79.20,777.85 L79.20,777.00 L80.95,777.00 L80.95,775.90 L82.70,775.90 L82.70,774.80 L84.00,774.80 L84.00,772.90 L85.30,772.90 L85.30,771.00 L87.00,771.00 L87.00,769.25 L88.70,769.25 L88.70,767.50 L89.35,767.50 L89.35,765.55 L90.00,765.55 L90.00,763.60 L90.65,763.60 L90.65,761.65 L91.30,761.65 L91.30,759.70 L98.30,759.70 L100.00,759.70 L100.00,757.10 L101.70,757.10 L101.70,754.50" fill="none" stroke="#bc2636" stroke-width="1.8" stroke-linejoin="miter"/>
<path d="M101.70,754.50 L102.87,754.50 L102.87,752.20 L104.03,752.20 L104.03,749.90 L105.20,749.90 L105.20,747.60 L112.10,747.60 L112.55,747.60 L112.55,745.45 L113.00,745.45 L113.00,743.30 L120.80,743.30 L121.48,743.30 L121.48,740.94 L122.16,740.94 L122.16,738.58 L122.84,738.58 L122.84,736.22 L123.52,736.22 L123.52,733.86 L124.20,733.86 L124.20,731.50 L132.90,731.50 L133.10,731.50 L133.10,729.48 L133.30,729.48 L133.30,727.45 L133.50,727.45 L133.50,725.42 L133.70,725.42 L133.70,723.40 L138.90,723.40 L139.12,723.40 L139.12,720.92 L139.35,720.92 L139.35,718.45 L139.58,718.45 L139.58,715.98 L139.80,715.98 L139.80,713.50 L146.90,713.50 L146.90,699.20 L202.30,699.20 L202.30,678.80 L207.40,678.80" fill="none" stroke="#b86472" stroke-width="1.2" stroke-linejoin="miter"/>
<path d="M61.90,794.80 L63.93,794.80 L63.93,792.90 L65.97,792.90 L65.97,791.00 L68.00,791.00 L68.00,789.10 L76.60,789.10 L78.63,789.10 L78.63,787.67 L80.67,787.67 L80.67,786.23 L82.70,786.23 L82.70,784.80 L85.30,784.80 L85.30,782.65 L87.90,782.65 L87.90,780.50 L96.50,780.00 L97.38,780.00 L97.38,777.84 L98.26,777.84 L98.26,775.68 L99.14,775.68 L99.14,773.52 L100.02,773.52 L100.02,771.36 L100.90,771.36 L100.90,769.20 L102.20,769.20 L102.20,767.50 L103.50,767.50 L103.50,765.80 L106.10,765.80 L106.10,764.90 L108.70,764.90 L108.70,764.00 L111.20,764.00 L111.20,760.90 L118.20,760.90" fill="none" stroke="#2f3a82" stroke-width="1.6" stroke-linejoin="miter"/>
<path d="M118.20,760.90 L118.70,752.70 L167.20,752.70 L167.20,721.10 L208.80,721.10" fill="none" stroke="#5c6290" stroke-width="1.2" stroke-linejoin="miter"/>
<text x="208.40" y="661.30" font-size="9.0" text-anchor="start" fill="#1e1e1e" stroke="#1e1e1e" stroke-width="0.32" textLength="41.50" lengthAdjust="spacingAndGlyphs" >Symptoms</text>
<text x="151.40" y="695.00" font-size="9.0" text-anchor="start" fill="#1e1e1e" stroke="#1e1e1e" stroke-width="0.32" textLength="43.60" lengthAdjust="spacingAndGlyphs" >Overt-PMF</text>
<text x="173.40" y="714.50" font-size="9.0" text-anchor="start" fill="#1e1e1e" stroke="#1e1e1e" stroke-width="0.32" textLength="34.70" lengthAdjust="spacingAndGlyphs" >Pre-PMF</text>
<text x="222.40" y="797.20" font-size="9.0" text-anchor="start" fill="#1e1e1e" stroke="#1e1e1e" stroke-width="0.32" textLength="27.50" lengthAdjust="spacingAndGlyphs" >P=.005</text>
<rect x="313.3" y="651.5" width="191.7" height="151.20000000000005" fill="none" stroke="#111" stroke-width="1.7"/>
<line x1="309.7" y1="657.50" x2="313.3" y2="657.50" stroke="#111" stroke-width="1.3"/>
<text x="306.3" y="660.5" font-size="9.3" text-anchor="end" fill="#1a1a1a" stroke="#1a1a1a" stroke-width="0.32" >1.0</text>
<line x1="309.7" y1="684.96" x2="313.3" y2="684.96" stroke="#111" stroke-width="1.3"/>
<text x="306.3" y="687.96" font-size="9.3" text-anchor="end" fill="#1a1a1a" stroke="#1a1a1a" stroke-width="0.32" >0.8</text>
<line x1="309.7" y1="712.42" x2="313.3" y2="712.42" stroke="#111" stroke-width="1.3"/>
<text x="306.3" y="715.42" font-size="9.3" text-anchor="end" fill="#1a1a1a" stroke="#1a1a1a" stroke-width="0.32" >0.6</text>
<line x1="309.7" y1="739.88" x2="313.3" y2="739.88" stroke="#111" stroke-width="1.3"/>
<text x="306.3" y="742.88" font-size="9.3" text-anchor="end" fill="#1a1a1a" stroke="#1a1a1a" stroke-width="0.32" >0.4</text>
<line x1="309.7" y1="767.34" x2="313.3" y2="767.34" stroke="#111" stroke-width="1.3"/>
<text x="306.3" y="770.3399999999999" font-size="9.3" text-anchor="end" fill="#1a1a1a" stroke="#1a1a1a" stroke-width="0.32" >0.2</text>
<line x1="309.7" y1="794.80" x2="313.3" y2="794.80" stroke="#111" stroke-width="1.3"/>
<text x="306.3" y="797.8" font-size="9.3" text-anchor="end" fill="#1a1a1a" stroke="#1a1a1a" stroke-width="0.32" >0.0</text>
<line x1="314.90" y1="802.7" x2="314.90" y2="806.1" stroke="#111" stroke-width="1.3"/>
<text x="314.90" y="818.4000000000001" font-size="9.3" text-anchor="middle" fill="#1a1a1a" stroke="#1a1a1a" stroke-width="0.32" >0</text>
<line x1="346.25" y1="802.7" x2="346.25" y2="806.1" stroke="#111" stroke-width="1.3"/>
<text x="346.25" y="818.4000000000001" font-size="9.3" text-anchor="middle" fill="#1a1a1a" stroke="#1a1a1a" stroke-width="0.32" >5</text>
<line x1="377.60" y1="802.7" x2="377.60" y2="806.1" stroke="#111" stroke-width="1.3"/>
<text x="377.60" y="818.4000000000001" font-size="9.3" text-anchor="middle" fill="#1a1a1a" stroke="#1a1a1a" stroke-width="0.32" >10</text>
<line x1="408.95" y1="802.7" x2="408.95" y2="806.1" stroke="#111" stroke-width="1.3"/>
<text x="408.95" y="818.4000000000001" font-size="9.3" text-anchor="middle" fill="#1a1a1a" stroke="#1a1a1a" stroke-width="0.32" >15</text>
<line x1="440.30" y1="802.7" x2="440.30" y2="806.1" stroke="#111" stroke-width="1.3"/>
<text x="440.30" y="818.4000000000001" font-size="9.3" text-anchor="middle" fill="#1a1a1a" stroke="#1a1a1a" stroke-width="0.32" >20</text>
<line x1="471.65" y1="802.7" x2="471.65" y2="806.1" stroke="#111" stroke-width="1.3"/>
<text x="471.65" y="818.4000000000001" font-size="9.3" text-anchor="middle" fill="#1a1a1a" stroke="#1a1a1a" stroke-width="0.32" >25</text>
<line x1="503.00" y1="802.7" x2="503.00" y2="806.1" stroke="#111" stroke-width="1.3"/>
<text x="503.00" y="818.4000000000001" font-size="9.3" text-anchor="middle" fill="#1a1a1a" stroke="#1a1a1a" stroke-width="0.32" >30</text>
<text x="409.15" y="834.7" font-size="12.3" text-anchor="middle" fill="#1a1a1a" stroke="#1a1a1a" stroke-width="0.32" textLength="24.0" lengthAdjust="spacingAndGlyphs" >Years</text>
<text transform="translate(286.70,727.10) rotate(-90)" x="0" y="0" font-size="12.4" text-anchor="middle" fill="#1a1a1a" stroke="#1a1a1a" stroke-width="0.32" textLength="96.0" lengthAdjust="spacingAndGlyphs">Cumulative incidence</text>
<path d="M314.50,794.80 L315.00,784.80 L315.24,784.80 L315.24,782.72 L315.48,782.72 L315.48,780.64 L315.72,780.64 L315.72,778.56 L315.96,778.56 L315.96,776.48 L316.20,776.48 L316.20,774.40 L317.07,774.40 L317.07,772.40 L317.93,772.40 L317.93,770.40 L318.80,770.40 L318.80,768.40 L320.55,768.40 L320.55,765.80 L322.30,765.80 L322.30,763.20 L324.90,763.20 L324.90,761.00 L327.50,761.00 L327.50,758.80 L329.53,758.80 L329.53,757.37 L331.57,757.37 L331.57,755.93 L333.60,755.93 L333.60,754.50 L335.60,754.50 L335.60,753.63 L337.60,753.63 L337.60,752.77 L339.60,752.77 L339.60,751.90 L342.20,751.90 L342.20,751.20 L344.80,751.20 L344.80,750.50 L351.70,750.50 L354.30,750.50 L354.30,747.60 L363.80,747.60 L365.60,747.60 L365.60,745.90 L374.20,745.90" fill="none" stroke="#bc2636" stroke-width="1.8" stroke-linejoin="miter"/>
<path d="M374.20,745.90 L374.50,745.90 L374.50,743.73 L374.80,743.73 L374.80,741.57 L375.10,741.57 L375.10,739.40 L375.40,739.40 L375.40,737.23 L375.70,737.23 L375.70,735.07 L376.00,735.07 L376.00,732.90 L387.20,732.90 L387.50,732.90 L387.50,730.90 L387.80,730.90 L387.80,728.90 L388.10,728.90 L388.10,726.90 L402.50,726.90 L402.50,718.50 L481.80,718.50" fill="none" stroke="#b86472" stroke-width="1.2" stroke-linejoin="miter"/>
<path d="M314.50,794.80 L315.00,785.70 L316.90,785.70 L316.90,785.25 L318.80,785.25 L318.80,784.80 L321.13,784.80 L321.13,783.93 L323.47,783.93 L323.47,783.07 L325.80,783.07 L325.80,782.20 L328.10,782.20 L328.10,781.23 L330.40,781.23 L330.40,780.27 L332.70,780.27 L332.70,779.30 L335.00,779.30 L335.00,778.70 L337.30,778.70 L337.30,778.10 L339.60,778.10 L339.60,777.50 L353.50,777.90 L356.10,777.90 L356.10,777.00 L358.70,777.00 L358.70,776.10 L360.40,776.10 L360.40,775.70 L362.10,775.70 L362.10,775.30 L363.40,775.30 L363.40,773.15 L364.70,773.15 L364.70,771.00" fill="none" stroke="#2f3a82" stroke-width="1.6" stroke-linejoin="miter"/>
<path d="M364.70,771.00 L372.50,771.00 L373.40,771.00 L373.40,767.80 L381.20,767.80 L381.20,764.40 L389.80,764.40 L390.10,764.40 L390.10,762.33 L390.40,762.33 L390.40,760.27 L390.70,760.27 L390.70,758.20 L415.70,758.20 L415.70,750.50 L489.80,750.50" fill="none" stroke="#5c6290" stroke-width="1.2" stroke-linejoin="miter"/>
<text x="403.60" y="661.20" font-size="9.0" text-anchor="start" fill="#1e1e1e" stroke="#1e1e1e" stroke-width="0.32" textLength="97.80" lengthAdjust="spacingAndGlyphs" >Transfusion dependence</text>
<text x="431.30" y="708.40" font-size="9.0" text-anchor="start" fill="#1e1e1e" stroke="#1e1e1e" stroke-width="0.32" textLength="43.60" lengthAdjust="spacingAndGlyphs" >Overt-PMF</text>
<text x="447.60" y="743.70" font-size="9.0" text-anchor="start" fill="#1e1e1e" stroke="#1e1e1e" stroke-width="0.32" textLength="34.50" lengthAdjust="spacingAndGlyphs" >Pre-PMF</text>
<text x="468.50" y="797.30" font-size="9.0" text-anchor="start" fill="#1e1e1e" stroke="#1e1e1e" stroke-width="0.32" textLength="32.10" lengthAdjust="spacingAndGlyphs" >P&lt;.0001</text>
</svg></body></html>
